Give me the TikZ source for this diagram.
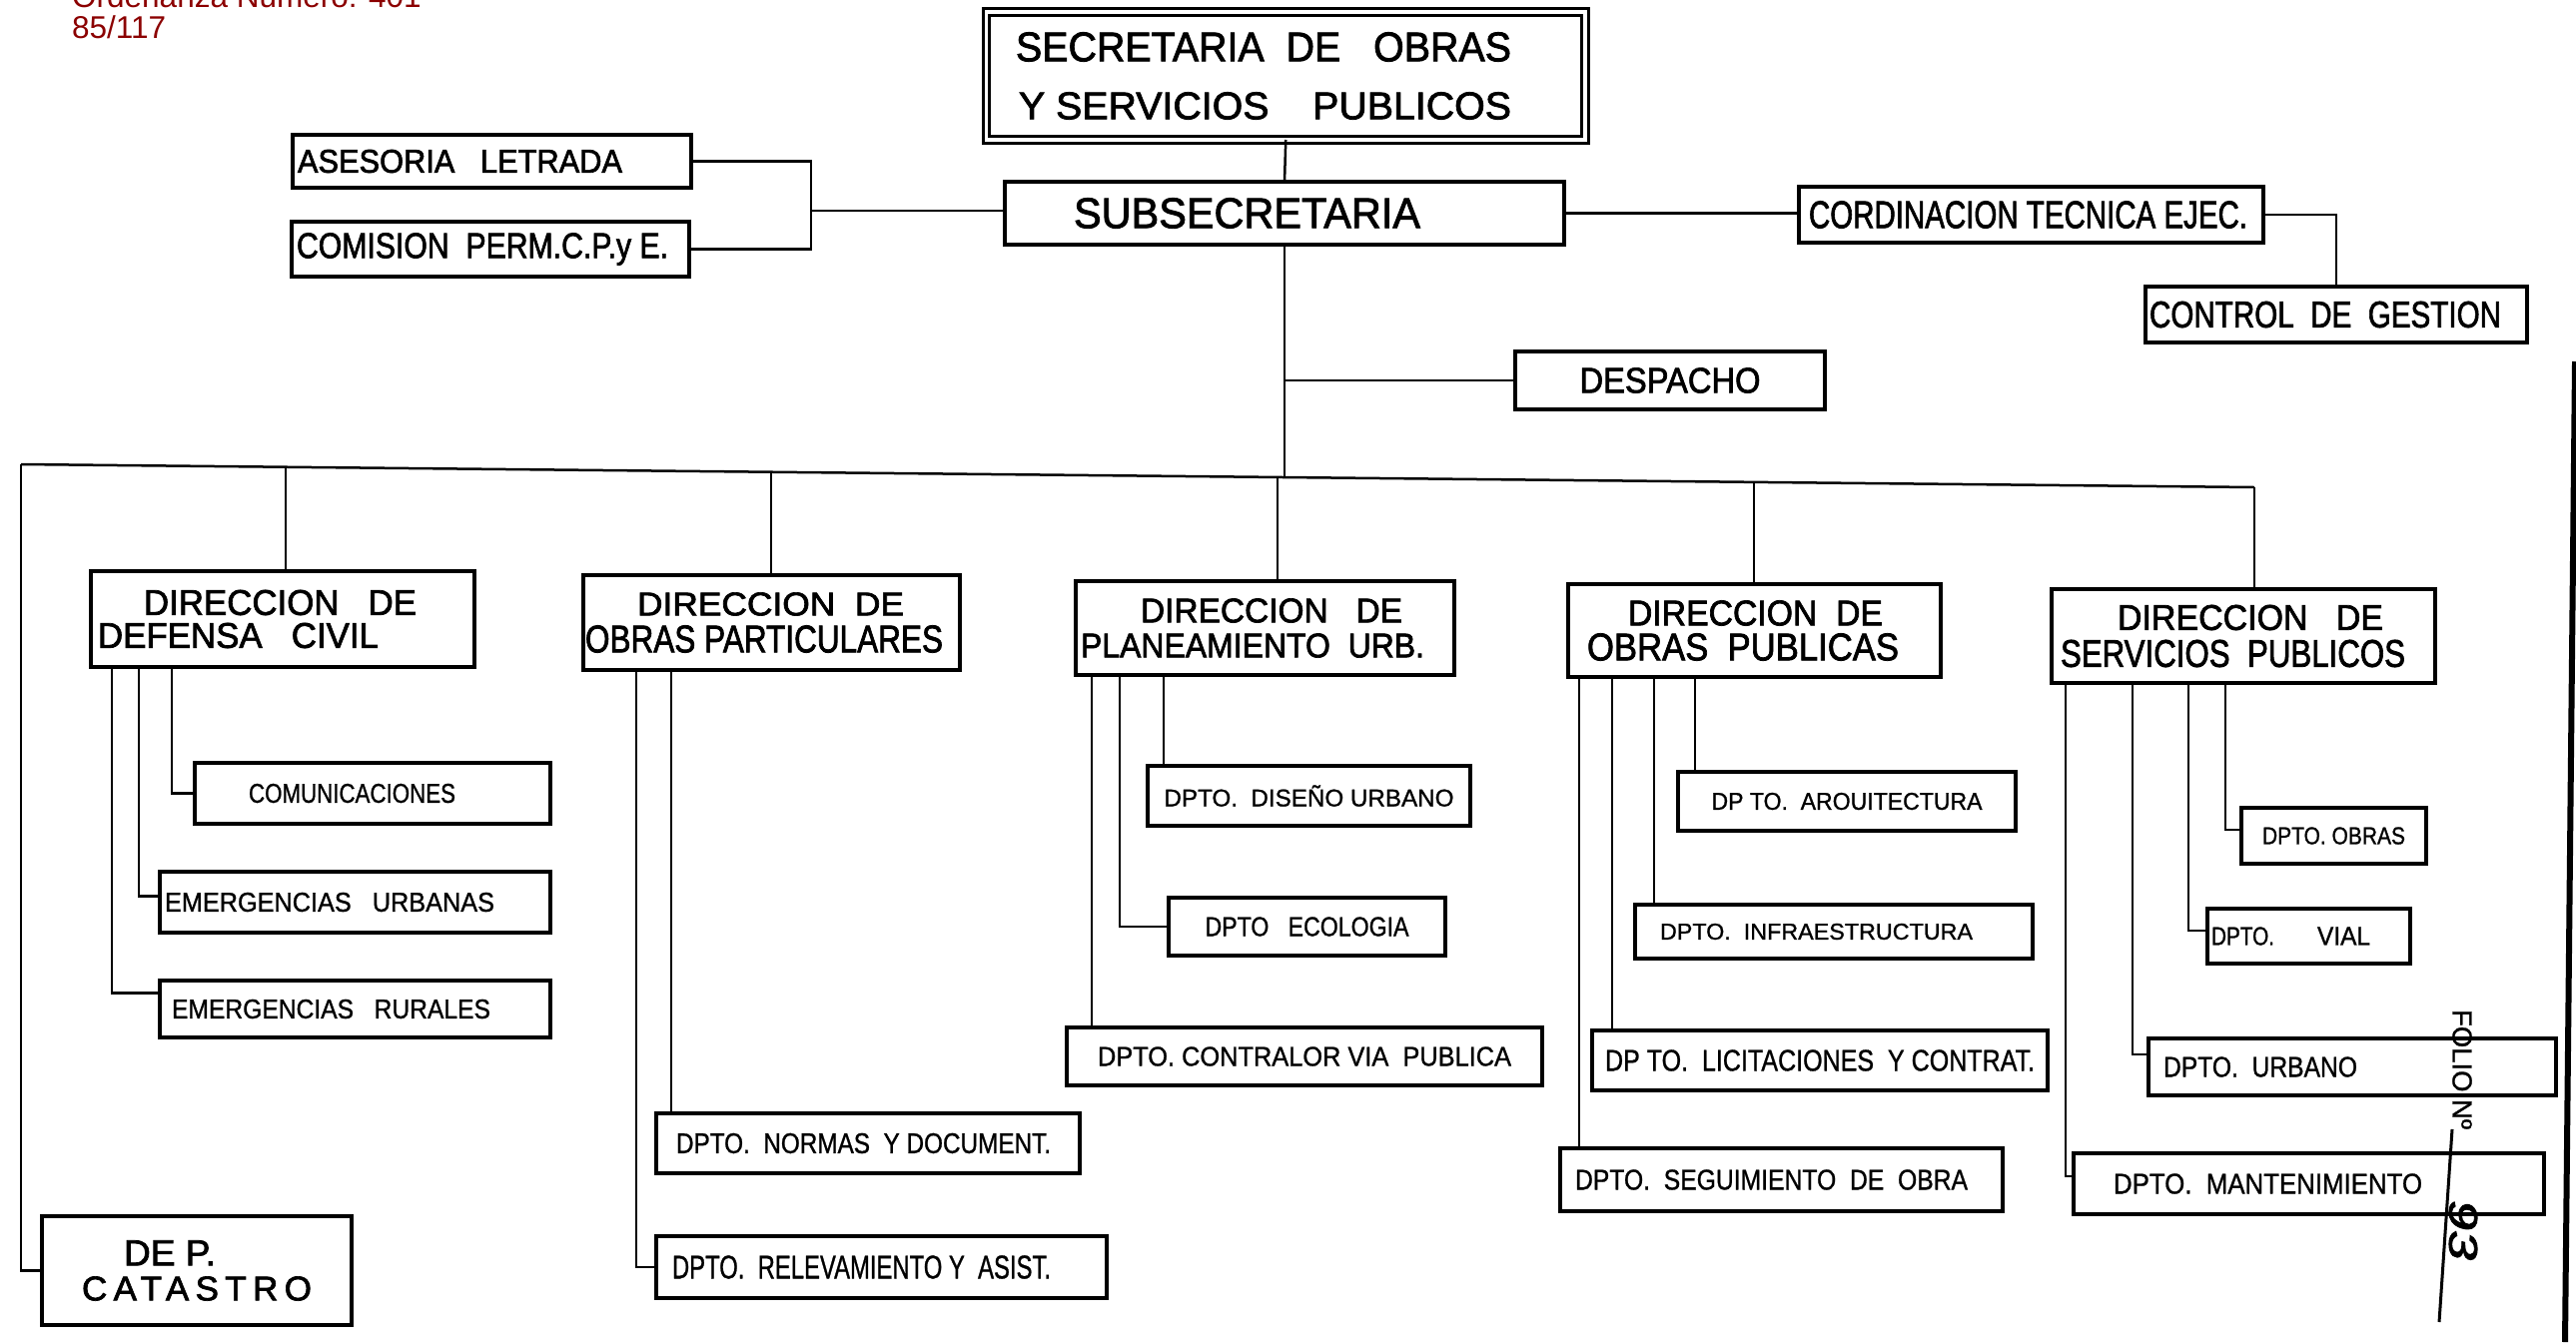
\documentclass[tikz,border=0pt]{standalone}
\usepackage{fontspec}
\setmainfont{Liberation Sans}
\newfontfamily\heavy[FakeBold=2]{Liberation Sans}
\newfontfamily\medium[FakeBold=1]{Liberation Sans}
\usepackage{graphicx}
\usetikzlibrary{calc}
\definecolor{hdrred}{RGB}{139,0,0}
\newcommand{\tx}[3]{\resizebox{#1pt}{#2pt}{\heavy #3}}
\newcommand{\tm}[3]{\resizebox{#1pt}{#2pt}{\medium #3}}
\begin{document}
\begin{tikzpicture}[x=1pt,y=-1pt,
  box/.style={draw, rectangle, line width=3.5pt, inner sep=0pt, outer sep=0pt},
  con/.style={line width=2.5pt},
  twoline/.style={align=left, font=\fontsize{10}{#1}\selectfont},
  hdr/.style={anchor=base west, inner sep=0pt, text=hdrred, font=\fontsize{31.5}{32}\selectfont},
  stamp/.style={rotate=-90, inner sep=0pt}
]
\useasboundingbox (0,0) rectangle (2579,1344);

% header
\node[hdr] (hdr1) at (72,7) {Ordenanza Numero: 401};
\node[hdr] (hdr2) at (72,38.3) {85/117};

% top
\node[box, double, line width=3pt, double distance=3.5pt, minimum width=599.5pt, minimum height=128pt, twoline=58pt] (sec) at (1287.25,76)
  {\tx{496}{29}{SECRETARIA\ \ DE\ \ \ OBRAS}\hspace*{44.5pt}\\\hspace*{3pt}\tx{493}{27}{Y SERVICIOS\ \ \ \ PUBLICOS}};
\node[box, minimum width=560pt, minimum height=63pt] (subsec) at (1286,213.5) {\tx{347}{30}{SUBSECRETARIA}\hspace*{75pt}};
\node[box, minimum width=399pt, minimum height=53pt] (asesoria) at (492.5,161.5) {\tx{325}{23}{ASESORIA\ \ \ LETRADA}\hspace*{64pt}};
\node[box, minimum width=398pt, minimum height=55pt] (comision) at (491,249.5) {\tx{372}{25}{COMISION\ \ PERM.C.P.y E.}\hspace*{16pt}};
\node[box, minimum width=465pt, minimum height=56pt] (cordin) at (2033.5,215) {\tx{439}{27}{CORDINACION TECNICA EJEC.}\hspace*{6pt}};
\node[box, minimum width=382pt, minimum height=56pt] (control) at (2339,315) {\tx{352}{26}{CONTROL\ \ DE\ \ GESTION}\hspace*{22pt}};
\node[box, minimum width=310pt, minimum height=58pt] (despacho) at (1672,381) {\tx{181}{25}{DESPACHO}};

% direcciones
\node[box, minimum width=384pt, minimum height=96pt, twoline=33pt] (defensa) at (283,620)
  {\hspace*{46pt}\tx{273}{25}{DIRECCION\ \ \ DE}\hspace*{51pt}\\\tx{281}{25}{DEFENSA\ \ \ CIVIL}};
\node[box, minimum width=377pt, minimum height=95pt, twoline=37pt] (opart) at (772.5,623.5)
  {\hspace*{52pt}\tx{267}{23}{DIRECCION\ \ DE}\\\tx{358}{27}{OBRAS PARTICULARES}\hspace*{15pt}};
\node[box, minimum width=379pt, minimum height=94pt, twoline=35pt] (plan) at (1266.5,629)
  {\hspace*{60pt}\tx{262}{24}{DIRECCION\ \ \ DE}\\\tx{344}{24}{PLANEAMIENTO\ \ URB.}\hspace*{25pt}};
\node[box, minimum width=373pt, minimum height=93pt, twoline=35pt] (opub) at (1756.5,631.5)
  {\hspace*{41pt}\tx{255}{25}{DIRECCION\ \ DE}\\\tx{312}{27}{OBRAS\ \ PUBLICAS}\hspace*{23pt}};
\node[box, minimum width=384pt, minimum height=94pt, twoline=37pt] (serv) at (2246,637)
  {\hspace*{57pt}\tx{266}{25}{DIRECCION\ \ \ DE}\\\tx{345}{27}{SERVICIOS\ \ PUBLICOS}\hspace*{21pt}};
\node[box, minimum width=310pt, minimum height=109pt, twoline=35pt] (catastro) at (197,1272.5)
  {\hspace*{42pt}\tx{92}{25}{DE P.}\\\tx{230}{24}{\addfontfeature{LetterSpace=18}CATASTRO}};

% departamentos
\node[box, minimum width=356pt, minimum height=61pt] (comunic) at (373,794.5) {\tm{207}{19}{COMUNICACIONES}\hspace*{41pt}};
\node[box, minimum width=391pt, minimum height=61pt] (eurb) at (355.5,903.5) {\tm{330}{19}{EMERGENCIAS\ \ \ URBANAS}\hspace*{51pt}};
\node[box, minimum width=391pt, minimum height=57pt] (erur) at (355.5,1010.5) {\tm{319}{19}{EMERGENCIAS\ \ \ RURALES}\hspace*{48pt}};
\node[box, minimum width=424pt, minimum height=60pt] (normas) at (869,1145) {\tm{375}{20}{DPTO.\ \ NORMAS\ \ Y DOCUMENT.}\hspace*{9pt}};
\node[box, minimum width=451pt, minimum height=62pt] (relev) at (882.5,1269) {\tm{379}{23}{DPTO.\ \ RELEVAMIENTO Y\ \ ASIST.}\hspace*{40pt}};
\node[box, minimum width=323pt, minimum height=60pt] (diseno) at (1310.5,797) {\resizebox{290pt}{!}{\medium DPTO.\ \ DISEÑO URBANO}};
\node[box, minimum width=277pt, minimum height=58pt] (ecol) at (1308.5,928) {\tm{204}{19}{DPTO\ \ \ ECOLOGIA}};
\node[box, minimum width=476pt, minimum height=58pt] (contr) at (1306,1058) {\tm{414}{19}{DPTO.\ CONTRALOR VIA\ \ PUBLICA}};
\node[box, minimum width=338pt, minimum height=59pt] (arq) at (1849,802.5) {\tm{271}{17}{DP TO.\ \ AROUITECTURA}};
\node[box, minimum width=398pt, minimum height=54pt] (infra) at (1836,933) {\tm{313}{16}{DPTO.\ \ INFRAESTRUCTURA}\hspace*{35pt}};
\node[box, minimum width=456pt, minimum height=60pt] (licit) at (1822,1062) {\tm{430}{21}{DP TO.\ \ LICITACIONES\ \ Y CONTRAT.}};
\node[box, minimum width=443pt, minimum height=63pt] (seguim) at (1783.5,1181.5) {\tm{393}{20}{DPTO.\ \ SEGUIMIENTO\ \ DE\ \ OBRA}\hspace*{20pt}};
\node[box, minimum width=185pt, minimum height=56pt] (sobras) at (2336.5,837) {\tm{143}{17}{DPTO.\ OBRAS}};
\node[box, minimum width=203pt, minimum height=55pt] (vial) at (2311.5,937.5) {\tm{63}{18}{DPTO.}\hspace*{43pt}\tm{53}{18}{VIAL}\hspace*{36pt}};
\node[box, minimum width=408pt, minimum height=57pt] (urbano) at (2355,1068.5) {\tm{194}{20}{DPTO.\ \ URBANO}\hspace*{184pt}};
\node[box, minimum width=471pt, minimum height=61pt] (mant) at (2311.5,1185.5) {\tm{309}{20}{DPTO.\ \ MANTENIMIENTO}\hspace*{82pt}};

% connectors top
\draw[con] (sec.south) -- (subsec.north);
\coordinate (jl) at (812,211);
\draw[con] (asesoria.east) -| (jl) |- (comision.east);
\draw[con] (jl) -- (jl -| subsec.west);
\draw[con] (subsec.east) -- (subsec.east -| cordin.west);
\draw[con] (cordin.east) -| (control.north);

% bus
\coordinate (b0) at (21,465);
\coordinate (b1) at (286,467.7);
\coordinate (b2) at (772,472.7);
\coordinate (bt) at (1286,478.2);
\coordinate (b3) at (1279,478);
\coordinate (b4) at (1756,482.9);
\coordinate (b5) at (2257,488);
\draw[con] (subsec.south) -- (bt);
\draw[con] (subsec.south |- despacho.west) -- (despacho.west);
\draw[con] (b0) -- (b5);
\draw[con] (b0) |- (catastro.west);
\draw[con] (b1) -- (b1 |- defensa.north);
\draw[con] (b2) -- (b2 |- opart.north);
\draw[con] (b3) -- (b3 |- plan.north);
\draw[con] (b4) -- (b4 |- opub.north);
\draw[con] (b5) -- (b5 |- serv.north);

% defensa civil
\draw[con] ([xshift=81pt]defensa.south west) |- (comunic.west);
\draw[con] ([xshift=48pt]defensa.south west) |- ([yshift=6pt]eurb.west);
\draw[con] ([xshift=21pt]defensa.south west) |- ([yshift=16pt]erur.west);
% obras particulares
\draw[con] ([xshift=88pt]opart.south west) -- ([xshift=15pt]normas.north west);
\draw[con] ([xshift=53pt]opart.south west) |- (relev.west);
% planeamiento
\draw[con] ([xshift=88pt]plan.south west) -- ([xshift=16pt]diseno.north west);
\draw[con] ([xshift=44pt]plan.south west) |- (ecol.west);
\draw[con] ([xshift=16pt]plan.south west) -- ([xshift=25pt]contr.north west);
% obras publicas
\draw[con] ([xshift=127pt]opub.south west) -- ([xshift=17pt]arq.north west);
\draw[con] ([xshift=86pt]opub.south west) -- ([xshift=19pt]infra.north west);
\draw[con] ([xshift=44pt]opub.south west) -- ([xshift=20pt]licit.north west);
\draw[con] ([xshift=11pt]opub.south west) -- ([xshift=19pt]seguim.north west);
% servicios publicos
\draw[con] ([xshift=174pt]serv.south west) |- ([yshift=6pt]sobras.west);
\draw[con] ([xshift=137pt]serv.south west) |- ([yshift=5.5pt]vial.west);
\draw[con] ([xshift=81pt]serv.south west) |- ([yshift=12.5pt]urbano.west);
\draw[con] ([xshift=14pt]serv.south west) |- ([yshift=7.5pt]mant.west);

% folio stamp and page edge
\node[stamp] (folio) at (2465,1071) {\resizebox{120pt}{!}{\medium FOLIO Nº}};
\node[stamp] (folnum) at (2466,1232) {\tx{60}{28}{\itshape 93}};
\draw[line width=3pt] (2455,1131) -- (2442,1324);
\draw[line width=6pt] (2578,362) -- (2568,1344);
\end{tikzpicture}
\end{document}
